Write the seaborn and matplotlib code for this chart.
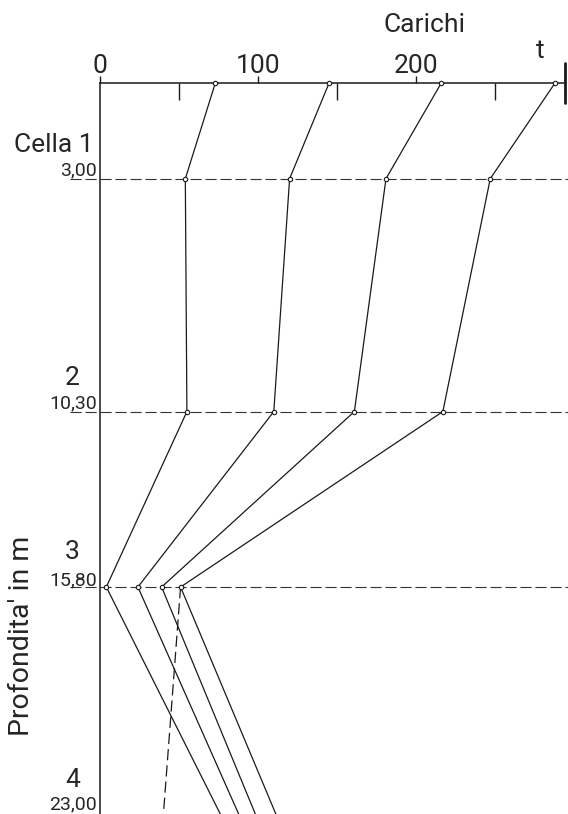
import matplotlib
matplotlib.use("Agg")
import matplotlib.pyplot as plt
import matplotlib.transforms as mtransforms
import numpy as np
import pandas as pd
import seaborn as sns

# depth of the measuring cells (m) and loads read at each cell (t)
depths = [0.0, 3.00, 10.30, 15.80, 23.00]
cell_names = ["Cella 1", "2", "3", "4"]
cell_depth_labels = ["3,00", "10,30", "15,80", "23,00"]
cell_depths = [3.00, 10.30, 15.80, 23.00]

load_1 = [73, 54, 55, 4, 77]
load_2 = [145, 120, 110, 24, 88.5]
load_3 = [216, 181, 161, 39, 99]
load_4 = [288, 247, 217, 51, 112]

# dashed curve below cell 3
dash_depths = [15.80, 23.00]
dash_loads = [51, 40]

x_major = [0, 100, 200]
x_minor = [50, 100, 150, 200, 250]

sns.set_style("white")
plt.rcParams['font.family'] = ['Roboto', 'DejaVu Sans']

W, H = 568, 814
fig = plt.figure(figsize=(W / 100, H / 100), dpi=100)
ax_bottom = (H - 816.7) / H
ax = fig.add_axes([100 / W, ax_bottom, 465 / W, (816.7 - 83) / H])
ax.set_xlim(0, 294.3)
ax.set_ylim(23.0, 0)

rows = []
for name, vals in zip(["s1", "s2", "s3", "s4"], [load_1, load_2, load_3, load_4]):
    for d, v in zip(depths, vals):
        rows.append({"series": name, "depth": d, "load": v})
df = pd.DataFrame(rows)

sns.lineplot(data=df, x="load", y="depth", hue="series", palette=["#1a1a1a"] * 4,
             estimator=None, sort=False, legend=False, lw=0.9, ax=ax, clip_on=False)
pts = df[df.depth < 23]
sns.scatterplot(data=pts, x="load", y="depth", s=10, facecolor="white",
                edgecolor="#1a1a1a", linewidth=0.8, ax=ax, zorder=5, clip_on=False)

dash_df = pd.DataFrame({"load": dash_loads, "depth": dash_depths})
sns.lineplot(data=dash_df, x="load", y="depth", estimator=None, sort=False,
             color="#1a1a1a", lw=0.9, dashes=False, ax=ax, clip_on=False,
             linestyle=(0, (9, 4)))

# dashed horizontal lines at cells
ax.hlines(cell_depths[:3], -19, 296.5, colors="#333333", lw=0.8,
          linestyles=(0, (10, 3.5)), clip_on=False)

# spines
for s in ["right", "bottom"]:
    ax.spines[s].set_visible(False)
for s in ["top", "left"]:
    ax.spines[s].set_visible(True)
    ax.spines[s].set_color("#1a1a1a")
    ax.spines[s].set_linewidth(1.1)

ax.set_xticks(x_major)
ax.set_xticklabels([str(v) for v in x_major])
ax.set_xticks(x_minor, minor=True)
ax.set_yticks([])
ax.xaxis.set_ticks_position("top")
ax.tick_params(axis="x", which="major", direction="out", length=5.2, width=1.0,
               top=True, bottom=False, labeltop=True, labelbottom=False,
               labelsize=19, pad=-1.5, color="#1a1a1a")
ax.tick_params(axis="x", which="minor", direction="in", length=12.2, width=1.0,
               top=True, bottom=False, color="#1a1a1a")
ax.set_xlabel("")
ax.set_ylabel("")

# end bar of load axis
ax.plot([294.3, 294.3], [-0.62, 0.62], color="#1a1a1a", lw=2, clip_on=False)

fig.text(425 / W, 1 - 32 / H, "Carichi", ha="center", va="baseline", fontsize=19)
fig.text(540 / W, 1 - 58 / H, "t", ha="center", va="baseline", fontsize=19)

# cell labels on the left
ytr = ax.get_yaxis_transform()
big_dy = [34, 34, 35, 37]
small_dy = [8, 8, 7, 12]
for i, (nm, lab, d) in enumerate(zip(cell_names, cell_depth_labels, cell_depths)):
    dx = -6 if i == 0 else -20
    t_big = mtransforms.offset_copy(ytr, fig=fig, x=dx, y=big_dy[i], units="dots")
    ax.text(0, d, nm, transform=t_big, ha="right", va="center", fontsize=19, clip_on=False)
    t_small = mtransforms.offset_copy(ytr, fig=fig, x=-3, y=small_dy[i], units="dots")
    ax.text(0, d, lab, transform=t_small, ha="right", va="center", fontsize=14, clip_on=False)

fig.text(22 / W, 1 - 636 / H, "Profondita' in m", rotation=90, ha="center", va="center",
         fontsize=20.5)

fig.savefig("out.png", dpi=100)
